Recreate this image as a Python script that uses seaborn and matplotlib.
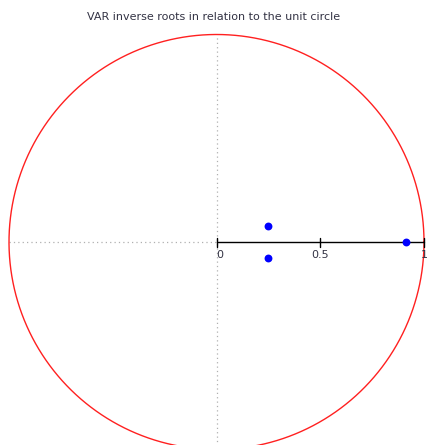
import numpy as np
import pandas as pd
import matplotlib
matplotlib.use("Agg")
import matplotlib.pyplot as plt
import seaborn as sns

root_re = [0.248, 0.248, 0.913]
root_im = [0.077, -0.077, 0.0]
tick_pos = [0, 0.5, 1]
tick_labels = ["0", "0.5", "1"]
title = "VAR inverse roots in relation to the unit circle"

df = pd.DataFrame({"re": root_re, "im": root_im})

sns.set_style("white")
plt.rcParams["font.family"] = ["DejaVu Sans"]

fig = plt.figure(figsize=(4.28, 4.45), dpi=100)
ax = fig.add_axes([0, 0, 1, 1])

# pixel mapping: centre at (216.5, 242 from top), radius 207.5 px
r_px = 207.5
cx, cy = 216.5, 445 - 242
ax.set_xlim(-cx / r_px, (428 - cx) / r_px)
ax.set_ylim(-cy / r_px, (445 - cy) / r_px)
ax.set_axis_off()

# unit circle
t = np.linspace(0, 2 * np.pi, 400)
ax.plot(np.cos(t), np.sin(t), color="#ff2020", lw=1.0, zorder=2)

# dotted reference axes
ax.plot([-1, 0], [0, 0], color="#b0b0b0", lw=0.9, ls=(0, (1, 2.5)), zorder=1)
ax.plot([0, 0], [-1.2, 1], color="#b0b0b0", lw=0.9, ls=(0, (1, 2.5)), zorder=1)

# solid real axis with ticks
ax.plot([0, 1], [0, 0], color="black", lw=1.0, zorder=3)
for pos, lab in zip(tick_pos, tick_labels):
    ax.plot([pos, pos], [-4.5 / r_px, 4.5 / r_px], color="black", lw=1.0, zorder=3)
    if lab == "0.5":
        ha, dx = "center", 0
    elif pos == 1:
        ha, dx = "right", 3.5 / r_px
    else:
        ha, dx = "left", 0
    ax.text(pos + dx, -8 / r_px, lab, ha=ha, va="top", fontsize=8, color="#333344")

sns.scatterplot(data=df, x="re", y="im", color="#0000ff", s=32,
                edgecolor="#0000ff", linewidth=0, zorder=4, ax=ax, legend=False)
ax.set_xlabel("")
ax.set_ylabel("")
ax.set_aspect("auto")

fig.text(0.5, 1 - 17 / 445, title, ha="center", va="center", fontsize=8, color="#333344")

fig.savefig("out.png", dpi=100)
